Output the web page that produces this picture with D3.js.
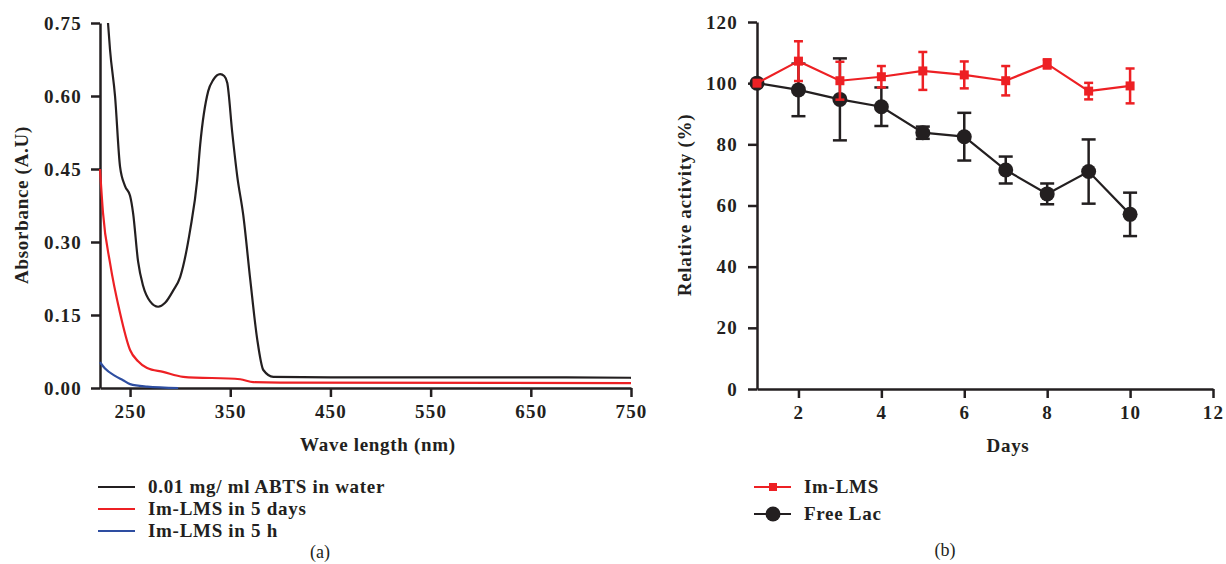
<!DOCTYPE html>
<html>
<head>
<meta charset="utf-8">
<script src="https://cdn.jsdelivr.net/npm/d3@7"></script>
<style>
  body { margin: 0; background: #fff; }
  svg text { font-family: "Liberation Serif", "Times New Roman", serif; fill: #231f20; }
  .axis path, .axis line { stroke: #231f20; stroke-width: 2.5; }
  .axis text { font-size: 19px; font-weight: bold; letter-spacing: 1.2px; }
  .label { font-size: 19px; font-weight: bold; letter-spacing: 0.7px; }
</style>
</head>
<body>
<svg id="chart"></svg>
<script>
// (a) UV-vis spectra, [wavelength nm, absorbance]
var abtsWater = [[228,0.75],[230,0.695],[235,0.60],[240,0.455],[245,0.415],[250,0.395],[253,0.36],[258,0.26],[263,0.21],[270,0.178],[278,0.167],[285,0.175],[293,0.2],[300,0.228],[310,0.325],[317,0.427],[320,0.5],[328,0.61],[333,0.633],[340,0.645],[344,0.641],[347,0.627],[352,0.525],[357,0.435],[363,0.355],[370,0.222],[377,0.099],[383,0.037],[393,0.023],[450,0.022],[550,0.022],[650,0.022],[750,0.021]];
var lms5days = [[220,0.45],[223,0.36],[230,0.257],[240,0.154],[250,0.078],[258,0.055],[267,0.041],[283,0.033],[303,0.023],[360,0.018],[373,0.012],[400,0.011],[750,0.010]];
var lms5h = [[220,0.053],[225,0.04],[235,0.025],[243,0.016],[250,0.008],[267,0.003],[298,0.0]];
var legendA = ["0.01 mg/ ml ABTS in water", "Im-LMS in 5 days", "Im-LMS in 5 h"];
var colorsA = ["#231f20", "#ed2024", "#2e4ea1"];
var absTicks = [0, 0.15, 0.30, 0.45, 0.60, 0.75];
var wlTicks = [250, 350, 450, 550, 650, 750];

// (b) storage stability
var days = [1, 2, 3, 4, 5, 6, 7, 8, 9, 10];
var imLms = [100, 107.2, 100.8, 102.1, 104, 102.7, 100.8, 106.3, 97.4, 99.1];
var imLmsErr = [0, 6.5, 6.2, 3.5, 6.2, 4.4, 4.8, 1.5, 2.7, 5.7];
var freeLac = [100, 97.8, 94.7, 92.3, 83.8, 82.5, 71.6, 63.8, 71.1, 57.1];
var freeLacErr = [0, 8.6, 13.4, 6.3, 2, 7.8, 4.4, 3.4, 10.5, 7.1];
var actTicks = [0, 20, 40, 60, 80, 100, 120];
var dayTicks = [2, 4, 6, 8, 10, 12];

var w = 1226, h = 564;
var svg = d3.select("#chart").attr("width", w).attr("height", h);

// ---------- panel (a)
var xA = d3.scaleLinear().domain([220, 750]).range([100, 631]);
var yA = d3.scaleLinear().domain([0, 0.75]).range([388, 23]);

svg.append("g")
  .attr("class", "axis")
  .attr("transform", "translate(0,388)")
  .call(d3.axisBottom(xA).tickValues(wlTicks).tickSize(9).tickSizeOuter(0).tickPadding(8));
svg.append("g")
  .attr("class", "axis")
  .attr("transform", "translate(100,0)")
  .call(d3.axisLeft(yA).tickValues(absTicks).tickFormat(d3.format(".2f")).tickSize(9).tickSizeOuter(0).tickPadding(9));

var lineA = d3.line()
  .x(function(d) { return xA(d[0]); })
  .y(function(d) { return yA(d[1]); })
  .curve(d3.curveMonotoneX);

[abtsWater, lms5days, lms5h].forEach(function(s, i) {
  svg.append("path")
    .attr("d", lineA(s))
    .attr("fill", "none")
    .attr("stroke", colorsA[i])
    .attr("stroke-width", 2.2);
});

svg.append("text").attr("class", "label")
  .attr("text-anchor", "middle")
  .attr("transform", "translate(28,205) rotate(-90)")
  .text("Absorbance (A.U)");
svg.append("text").attr("class", "label")
  .attr("text-anchor", "middle")
  .attr("x", 378).attr("y", 451)
  .text("Wave length (nm)");

legendA.forEach(function(t, i) {
  var y = 487 + i * 22;
  svg.append("line")
    .attr("x1", 98).attr("x2", 135).attr("y1", y).attr("y2", y)
    .attr("stroke", colorsA[i]).attr("stroke-width", 2.2);
  svg.append("text").attr("class", "label")
    .attr("x", 148).attr("y", y + 6)
    .text(t);
});
svg.append("text")
  .attr("x", 320).attr("y", 558)
  .attr("text-anchor", "middle")
  .attr("font-size", "18px")
  .text("(a)");

// ---------- panel (b)
var xB = d3.scaleLinear().domain([1, 12]).range([757, 1213]);
var yB = d3.scaleLinear().domain([0, 120]).range([389, 22]);

svg.append("g")
  .attr("class", "axis")
  .attr("transform", "translate(0,389)")
  .call(d3.axisBottom(xB).tickValues(dayTicks).tickSize(9).tickSizeOuter(0).tickPadding(8));
svg.append("g")
  .attr("class", "axis")
  .attr("transform", "translate(757,0)")
  .call(d3.axisLeft(yB).tickValues(actTicks).tickSize(9).tickSizeOuter(0).tickPadding(10));

function drawSeries(vals, errs, color, capW, marker) {
  var pts = days.map(function(d, i) { return [d, vals[i], errs[i]]; });
  var g = svg.append("g");
  g.append("path")
    .attr("d", d3.line()
      .x(function(d) { return xB(d[0]); })
      .y(function(d) { return yB(d[1]); })(pts))
    .attr("fill", "none").attr("stroke", color).attr("stroke-width", 2.2);
  pts.forEach(function(d) {
    if (d[2] <= 0) return;
    var x = xB(d[0]), y0 = yB(d[1] - d[2]), y1 = yB(d[1] + d[2]);
    g.append("line").attr("x1", x).attr("x2", x).attr("y1", y0).attr("y2", y1)
      .attr("stroke", color).attr("stroke-width", 2.5);
    [y0, y1].forEach(function(yy) {
      g.append("line").attr("x1", x - capW / 2).attr("x2", x + capW / 2).attr("y1", yy).attr("y2", yy)
        .attr("stroke", color).attr("stroke-width", 2.5);
    });
  });
  pts.forEach(function(d) {
    if (marker === "circle") {
      g.append("circle").attr("cx", xB(d[0])).attr("cy", yB(d[1])).attr("r", 7.5).attr("fill", color);
    } else {
      g.append("rect").attr("x", xB(d[0]) - 4.5).attr("y", yB(d[1]) - 4.5)
        .attr("width", 9).attr("height", 9).attr("fill", color);
    }
  });
}
drawSeries(freeLac, freeLacErr, "#231f20", 14, "circle");
drawSeries(imLms, imLmsErr, "#ed2024", 9, "square");

svg.append("text").attr("class", "label")
  .attr("text-anchor", "middle")
  .attr("transform", "translate(691,205) rotate(-90)")
  .text("Relative activity (%)");
svg.append("text").attr("class", "label")
  .attr("text-anchor", "middle")
  .attr("x", 1008).attr("y", 452)
  .text("Days");

var legendB = [["Im-LMS", "#ed2024", "square"], ["Free Lac", "#231f20", "circle"]];
legendB.forEach(function(l, i) {
  var y = 487 + i * 27;
  svg.append("line").attr("x1", 754).attr("x2", 791).attr("y1", y).attr("y2", y)
    .attr("stroke", l[1]).attr("stroke-width", 2.2);
  if (l[2] === "circle") {
    svg.append("circle").attr("cx", 773).attr("cy", y).attr("r", 7.5).attr("fill", l[1]);
  } else {
    svg.append("rect").attr("x", 769).attr("y", y - 4).attr("width", 8).attr("height", 8).attr("fill", l[1]);
  }
  svg.append("text").attr("class", "label")
    .attr("x", 804).attr("y", y + 6)
    .text(l[0]);
});
svg.append("text")
  .attr("x", 945).attr("y", 556)
  .attr("text-anchor", "middle")
  .attr("font-size", "18px")
  .text("(b)");
</script>
</body>
</html>
